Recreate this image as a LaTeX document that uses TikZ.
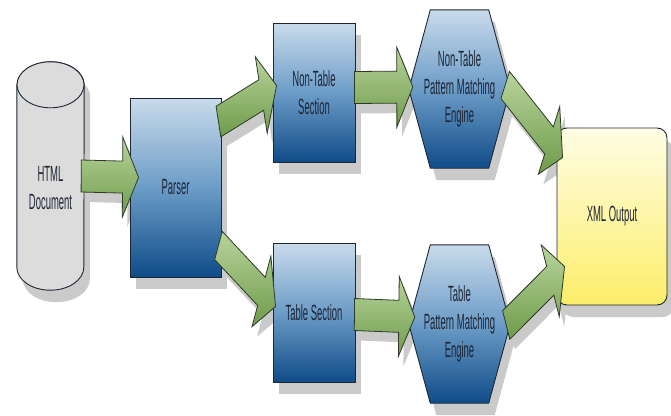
\documentclass[tikz,border=0pt]{standalone}
\usepackage{fontspec}
\setmainfont{Liberation Sans}[FakeStretch=0.43]
\usetikzlibrary{calc}

\definecolor{bluetop}{HTML}{C9DBEB}
\definecolor{bluemid}{HTML}{6C9CC7}
\definecolor{bluebot}{HTML}{0F4C88}
\definecolor{greentop}{HTML}{B8D49C}
\definecolor{greenbot}{HTML}{6E9B4A}
\definecolor{greenedge}{HTML}{2E3A28}
\definecolor{yeltop}{HTML}{FFFDE4}
\definecolor{yelbot}{HTML}{FCEE6A}
\definecolor{cylfill}{HTML}{DCDCDC}
\definecolor{edgecol}{HTML}{1E2632}
\definecolor{shadowgray}{HTML}{CACACA}
\definecolor{txt}{HTML}{1E2433}

\pgfdeclarelayer{bg}
\pgfdeclarelayer{mid}
\pgfsetlayers{bg,mid,main}

\tikzset{
  lbl/.style={font=\fontsize{22}{28}\selectfont, text=txt, align=center},
  shadowed/.style={preaction={fill=shadowgray, transform canvas={shift={(6pt,-12pt)}}}},
  bluebox/.style={draw=edgecol, line width=0.9pt, top color=bluetop,
    bottom color=bluebot, middle color=bluemid, shadowed, lbl, inner sep=0pt},
  hexnode/.style={lbl, inner sep=0pt, minimum width=101pt, minimum height=158pt},
  hexfill/.style={draw=edgecol, line width=0.9pt, top color=bluetop,
    bottom color=bluebot, middle color=bluemid},
  outbox/.style={draw=edgecol, line width=0.9pt, rounded corners=10pt,
    top color=yeltop, bottom color=yelbot, shadowed, lbl, inner sep=0pt},
  arrowbody/.style={draw=greenedge, line width=0.8pt, top color=greentop,
    bottom color=greenbot, line join=miter},
  arrowshadow/.style={fill=shadowgray, transform canvas={shift={(5pt,-10pt)}}},
}

% hexagon outline built from the anchors of a node
\newcommand\hexpath[1]{(#1.west) -- ($(#1.north west)+(21.5,0)$)
  -- ($(#1.north east)+(-21.5,0)$) -- (#1.east)
  -- ($(#1.south east)+(-21.5,0)$) -- ($(#1.south west)+(21.5,0)$) -- cycle}

% block arrow from a tail point to a tip point (drawing is twice as tall as wide)
\newcommand\flowarrow[2]{%
  \path (#1) coordinate (fa-a) (#2) coordinate (fa-b);
  \pgfpointanchor{fa-a}{center}\pgfgetlastxy{\faX}{\faY}%
  \pgfpointanchor{fa-b}{center}\pgfgetlastxy{\fbX}{\fbY}%
  \pgfmathsetmacro\ax{\faX}\pgfmathsetmacro\ay{\faY}%
  \pgfmathsetmacro\bx{\fbX}\pgfmathsetmacro\by{\fbY}%
  \pgfmathsetmacro\dx{\bx-\ax}\pgfmathsetmacro\dy{\by-\ay}%
  \pgfmathsetmacro\len{veclen(\dx,\dy/2)}%
  \pgfmathsetmacro\hk{16/\len}%
  \pgfmathsetmacro\px{-\dy/2/\len}\pgfmathsetmacro\py{2*\dx/\len}%
  \pgfmathsetmacro\hx{\bx-\hk*\dx}\pgfmathsetmacro\hy{\by-\hk*\dy}%
  \def\arrowshape{(\ax pt+8*\px pt, \ay pt+8*\py pt)
    -- (\hx pt+8*\px pt, \hy pt+8*\py pt)
    -- (\hx pt+20*\px pt, \hy pt+20*\py pt)
    -- (\bx pt, \by pt)
    -- (\hx pt-20*\px pt, \hy pt-20*\py pt)
    -- (\hx pt-8*\px pt, \hy pt-8*\py pt)
    -- (\ax pt-8*\px pt, \ay pt-8*\py pt) -- cycle}%
  \begin{pgfonlayer}{bg}
    \path[arrowshadow] \arrowshape;
  \end{pgfonlayer}
  \path[arrowbody] \arrowshape;
}

\begin{document}
\begin{tikzpicture}[x=1pt, y=-1pt]
\useasboundingbox (0,0) rectangle (671,415);

% source document (cylinder)
\node[minimum width=67pt, minimum height=228pt, inner sep=0pt] (html) at (50.5,176) {};
\begin{pgfonlayer}{mid}
  \fill[shadowgray, transform canvas={shift={(6pt,-12pt)}}]
    ($(html.north west)+(0,23)$) -- ($(html.south west)+(0,-23)$)
    arc[start angle=180, end angle=0, x radius=33.5, y radius=23]
    -- ($(html.north east)+(0,23)$)
    arc[start angle=0, end angle=-180, x radius=33.5, y radius=23] -- cycle;
  \filldraw[fill=cylfill, draw=edgecol, line width=0.9pt]
    ($(html.north west)+(0,23)$) -- ($(html.south west)+(0,-23)$)
    arc[start angle=180, end angle=0, x radius=33.5, y radius=23]
    -- ($(html.north east)+(0,23)$)
    arc[start angle=0, end angle=-180, x radius=33.5, y radius=23] -- cycle;
  \filldraw[fill=cylfill, draw=edgecol, line width=0.9pt]
    ($(html.north)+(0,23)$) ellipse[x radius=33.5, y radius=23];
\end{pgfonlayer}
\node[lbl] (html-t) at ($(html.center)+(0,12)$) {HTML\\Document};

% processing boxes
\node[bluebox, minimum width=91pt, minimum height=179pt] (parser) at (175.5,187.5) {Parser};
\node[bluebox, minimum width=82pt, minimum height=139pt] (nts) at (314,92.5) {Non-Table\\Section};
\node[bluebox, minimum width=82pt, minimum height=139pt] (ts) at (314,312.5) {Table Section};

% pattern matching engines
\node[hexnode] (ntpme) at (459.5,89) {Non-Table\\Pattern Matching\\Engine};
\node[hexnode] (tpme) at (459.5,324) {Table\\Pattern Matching\\Engine};
\begin{pgfonlayer}{mid}
  \fill[shadowgray, transform canvas={shift={(6pt,-12pt)}}] \hexpath{ntpme};
  \path[hexfill] \hexpath{ntpme};
  \fill[shadowgray, transform canvas={shift={(6pt,-12pt)}}] \hexpath{tpme};
  \path[hexfill] \hexpath{tpme};
\end{pgfonlayer}

% result
\node[outbox, minimum width=110pt, minimum height=177pt] (xml) at (612,216.5) {XML Output};

% flow arrows
\flowarrow{$(html.east)+(-3,0)$}{$(parser.west)+(9,-10)$}
\flowarrow{$(parser.north east)+(-3,24)$}{$(nts.west)+(4,-7)$}
\flowarrow{$(parser.south east)+(-3,-32)$}{$(ts.west)+(3,-6)$}
\flowarrow{$(nts.east)+(-1,-5)$}{$(ntpme.west)+(4,-2)$}
\flowarrow{$(ts.east)+(-1,2)$}{$(tpme.west)+(6,-7)$}
\flowarrow{$(ntpme.east)+(-5,-4)$}{$(xml.north west)+(6,30)$}
\flowarrow{$(tpme.east)+(-4,1)$}{$(xml.south west)+(8,-39)$}
\end{tikzpicture}
\end{document}
